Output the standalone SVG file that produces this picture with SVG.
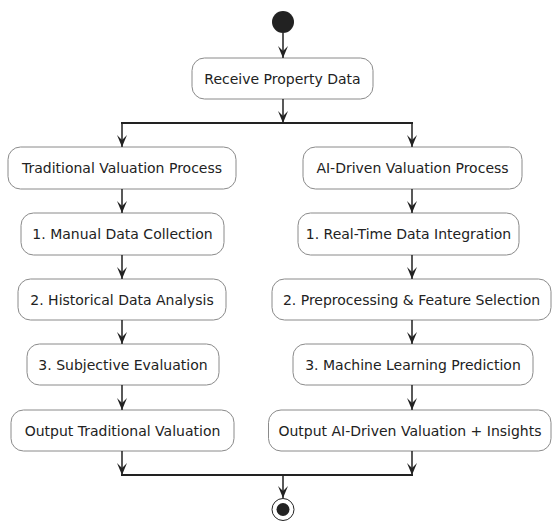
<svg xmlns="http://www.w3.org/2000/svg" width="552" height="522" viewBox="0 0 552 522">
<style>
.box{fill:#ffffff;stroke:#8a8a8a;stroke-width:1}
.lbl{font-family:"DejaVu Sans",sans-serif;font-size:14px;fill:#222222;text-anchor:middle}
.ln{stroke:#222222;stroke-width:1.5;fill:none}
.bar{stroke:#222222;stroke-width:2;fill:none}
</style>
<defs>
<marker id="ah" viewBox="0 0 12 10" refX="12" refY="5" markerWidth="12" markerHeight="10" markerUnits="userSpaceOnUse" orient="auto">
<path d="M0,0 L12,5 L0,10 L5,5 Z" fill="#222222"/>
</marker>
</defs>
<g id="start"><circle cx="283" cy="22" r="11" fill="#222222"/></g>
<g id="receive"><rect class="box" x="192" y="58" width="181" height="41" rx="12.5"/><text class="lbl" x="282.5" y="83.5">Receive Property Data</text></g>
<g id="trad"><rect class="box" x="8" y="147" width="228" height="42" rx="12.5"/><text class="lbl" x="122" y="173">Traditional Valuation Process</text></g>
<g id="manual"><rect class="box" x="21" y="213" width="203" height="42" rx="12.5"/><text class="lbl" x="122.5" y="239">1. Manual Data Collection</text></g>
<g id="historical"><rect class="box" x="18" y="279" width="208" height="41" rx="12.5"/><text class="lbl" x="122" y="304.5">2. Historical Data Analysis</text></g>
<g id="subjective"><rect class="box" x="27" y="344" width="192" height="41" rx="12.5"/><text class="lbl" x="123" y="369.5">3. Subjective Evaluation</text></g>
<g id="outtrad"><rect class="box" x="11" y="410" width="223" height="41" rx="12.5"/><text class="lbl" x="122.5" y="435.5">Output Traditional Valuation</text></g>
<g id="ai"><rect class="box" x="303" y="147" width="219" height="42" rx="12.5"/><text class="lbl" x="412.5" y="173">AI-Driven Valuation Process</text></g>
<g id="realtime"><rect class="box" x="298" y="213" width="221" height="42" rx="12.5"/><text class="lbl" x="408.5" y="239">1. Real-Time Data Integration</text></g>
<g id="preproc"><rect class="box" x="272" y="279" width="279" height="41" rx="12.5"/><text class="lbl" x="411.5" y="304.5">2. Preprocessing &amp; Feature Selection</text></g>
<g id="ml"><rect class="box" x="293" y="344" width="240" height="41" rx="12.5"/><text class="lbl" x="413" y="369.5">3. Machine Learning Prediction</text></g>
<g id="outai"><rect class="box" x="268.5" y="410" width="282.5" height="41" rx="12.5"/><text class="lbl" x="410" y="435.5">Output AI-Driven Valuation + Insights</text></g>
<g id="end"><circle cx="283" cy="509.5" r="11" fill="none" stroke="#222222" stroke-width="1"/><circle cx="283" cy="509.5" r="6.5" fill="#222222"/></g>
<g id="connectors">
<line class="ln" x1="283" y1="33" x2="283" y2="58" marker-end="url(#ah)"/>
<line class="ln" x1="283" y1="99" x2="283" y2="123" marker-end="url(#ah)"/>
<line class="bar" x1="121" y1="123" x2="413" y2="123"/>
<line class="ln" x1="122" y1="123" x2="122" y2="147" marker-end="url(#ah)"/>
<line class="ln" x1="412" y1="123" x2="412" y2="147" marker-end="url(#ah)"/>
<line class="ln" x1="122" y1="189" x2="122" y2="213" marker-end="url(#ah)"/>
<line class="ln" x1="122" y1="255" x2="122" y2="279" marker-end="url(#ah)"/>
<line class="ln" x1="122" y1="320" x2="122" y2="344" marker-end="url(#ah)"/>
<line class="ln" x1="122" y1="385" x2="122" y2="410" marker-end="url(#ah)"/>
<line class="ln" x1="122" y1="451" x2="122" y2="475" marker-end="url(#ah)"/>
<line class="ln" x1="412" y1="189" x2="412" y2="213" marker-end="url(#ah)"/>
<line class="ln" x1="412" y1="255" x2="412" y2="279" marker-end="url(#ah)"/>
<line class="ln" x1="412" y1="320" x2="412" y2="344" marker-end="url(#ah)"/>
<line class="ln" x1="412" y1="385" x2="412" y2="410" marker-end="url(#ah)"/>
<line class="ln" x1="412" y1="451" x2="412" y2="475" marker-end="url(#ah)"/>
<line class="bar" x1="121" y1="475" x2="413" y2="475"/>
<line class="ln" x1="283" y1="475" x2="283" y2="498" marker-end="url(#ah)"/>
</g>
</svg>
